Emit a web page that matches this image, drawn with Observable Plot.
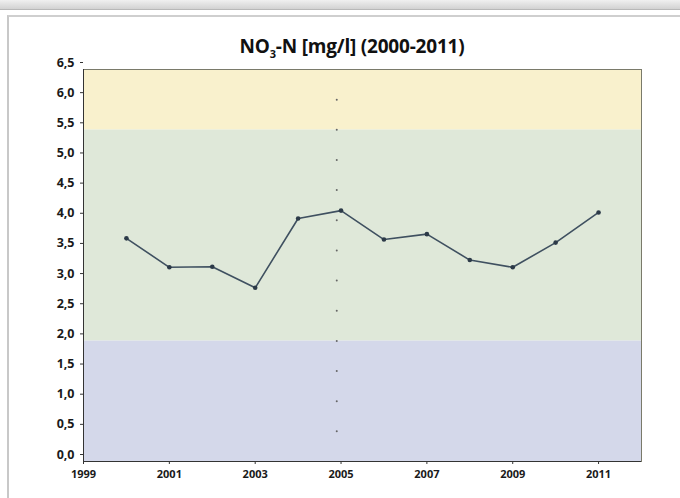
<!DOCTYPE html>
<html>
<head>
<meta charset="utf-8">
<script src="https://cdn.jsdelivr.net/npm/d3@7"></script>
<script src="https://cdn.jsdelivr.net/npm/@observablehq/plot@0.6"></script>
<style>
  html, body { margin: 0; padding: 0; background: #ffffff; }
  #page { position: relative; width: 680px; height: 498px; overflow: hidden; background: #ffffff; }
  #topbar { position: absolute; left: 0; top: 0; width: 680px; height: 9px;
            background: linear-gradient(#f0f0f0, #d2d2d2); border-bottom: 1px solid #b8b8b8; }
  #panel { position: absolute; left: 7px; top: 15px; width: 680px; height: 490px;
           border-top: 2px solid #cfcfcf; border-left: 2px solid #c8c8c8; background: #ffffff; }
  #title { position: absolute; left: 132px; width: 440px; top: 35px; text-align: center;
           font-family: "Open Sans", sans-serif; font-weight: 700; font-size: 19px; line-height: 22px;
           color: #111; letter-spacing: -0.2px; }
  #title sub { font-size: 11px; line-height: 0; }
  #chart { position: absolute; left: 0; top: 50px; }
</style>
</head>
<body>
<div id="page">
  <div id="topbar"></div>
  <div id="panel"></div>
  <div id="title">NO<sub>3</sub>-N [mg/l] (2000-2011)</div>
  <div id="chart"></div>
</div>
<script>
// Data
const years = [2000, 2001, 2002, 2003, 2004, 2005, 2006, 2007, 2008, 2009, 2010, 2011];
const no3n  = [3.70, 3.22, 3.23, 2.88, 4.03, 4.16, 3.68, 3.77, 3.34, 3.22, 3.63, 4.13];
const xDomain = [1999, 2012];
const xTicks = [1999, 2001, 2003, 2005, 2007, 2009, 2011];
const yTicks = [0, 0.5, 1, 1.5, 2, 2.5, 3, 3.5, 4, 4.5, 5, 5.5, 6, 6.5];
const bandLow  = [0, 2, 5.5];
const bandHigh = [2, 5.5, 6.5];
const bandColors = ["#d4d8ea", "#dfe8d9", "#f9f1cd"];
const markerYear = 2004.9;

const series = years.map((y, i) => ({year: y, value: no3n[i]}));
const bands = bandLow.map((lo, i) => ({lo, hi: bandHigh[i], color: bandColors[i]}));
const markerDots = yTicks.filter(v => v > 0 && v < 6.5).map(v => ({year: markerYear, value: v}));

const chart = Plot.plot({
  width: 680,
  height: 448,
  marginTop: 19,
  marginBottom: 37,
  marginLeft: 83,
  marginRight: 39,
  style: {fontFamily: "Open Sans, sans-serif", fontSize: "11px", color: "#1a1a1a", background: "transparent"},
  x: {domain: xDomain, label: null},
  y: {domain: [0, 6.5], label: null},
  marks: [
    Plot.rect(bands, {x1: xDomain[0], x2: xDomain[1], y1: "lo", y2: "hi", fill: "color"}),
    Plot.dot(markerDots, {x: "year", y: "value", r: 1, fill: "#666", stroke: null}),
    Plot.frame({stroke: "#7a7a6a", strokeWidth: 1}),
    Plot.line(series, {x: "year", y: "value", stroke: "#3f5060", strokeWidth: 1.6}),
    Plot.dot(series, {x: "year", y: "value", r: 2.3, fill: "#2c3a48", stroke: null}),
    Plot.axisY({ticks: yTicks, tickFormat: d => d.toFixed(1).replace(".", ","), tickSize: 3,
                tickPadding: 6, dy: -7, fontWeight: "bold", fontSize: 12.5, stroke: "#333", label: null}),
    Plot.axisX({ticks: xTicks, tickFormat: d => String(d), tickSize: 3, tickPadding: 6,
                fontWeight: "bold", fontSize: 11, stroke: "#333", label: null}),
    Plot.ruleY([0], {stroke: "#333", strokeWidth: 1}),
    Plot.ruleX([xDomain[0]], {stroke: "#333", strokeWidth: 1})
  ]
});
document.getElementById("chart").appendChild(chart);
</script>
</body>
</html>
